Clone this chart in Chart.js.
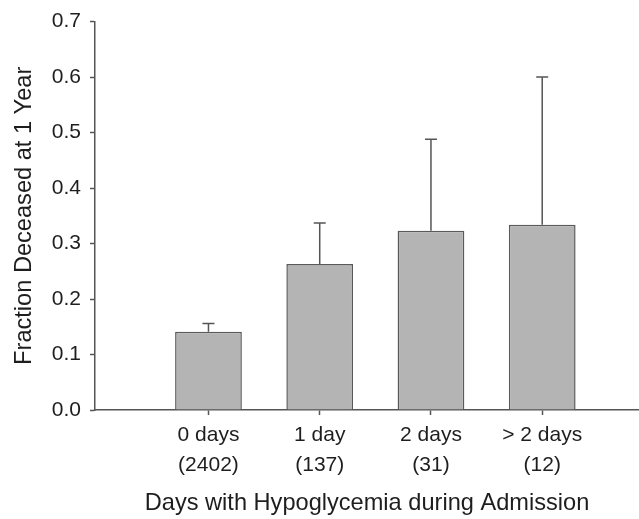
<!DOCTYPE html>
<html>
<head>
<meta charset="utf-8">
<style>
  html, body { margin: 0; padding: 0; background: #fff; }
  #wrap { width: 639px; height: 519px; }
</style>
<script src="https://cdn.jsdelivr.net/npm/chart.js"></script>
</head>
<body>
<div id="wrap"><canvas id="chart"></canvas></div>
<script>
  // Data
  const categories = ['0 days', '1 day', '2 days', '> 2 days'];
  const counts = ['(2402)', '(137)', '(31)', '(12)'];
  const positions = [1, 2, 3, 4];
  const fraction = [0.141, 0.263, 0.323, 0.334];
  const upperError = [0.156, 0.337, 0.488, 0.600];
  const yTicks = [0, 0.1, 0.2, 0.3, 0.4, 0.5, 0.6, 0.7];

  const axisColor = '#555555';
  const textColor = '#1e1e1e';
  const fontFamily = 'Arial, "Liberation Sans", Helvetica, sans-serif';

  // Upward-only error bars with a small cap
  const errorBars = {
    id: 'errorBars',
    afterDatasetsDraw(chart) {
      const ctx = chart.ctx;
      const xs = chart.scales.x, ys = chart.scales.y;
      ctx.save();
      ctx.strokeStyle = axisColor;
      ctx.lineWidth = 1.5;
      positions.forEach((p, i) => {
        const x = xs.getPixelForValue(p);
        const y0 = ys.getPixelForValue(fraction[i]);
        const y1 = ys.getPixelForValue(upperError[i]);
        ctx.beginPath();
        ctx.moveTo(x, y0);
        ctx.lineTo(x, y1);
        ctx.moveTo(x - 6, y1);
        ctx.lineTo(x + 6, y1);
        ctx.stroke();
      });
      ctx.restore();
    }
  };

  const ctx = document.getElementById('chart').getContext('2d');
  new Chart(ctx, {
    type: 'bar',
    data: {
      datasets: [{
        data: positions.map((p, i) => ({ x: p, y: fraction[i] })),
        backgroundColor: '#b4b4b4',
        borderColor: '#5a5a5a',
        borderWidth: 1.5,
        barPercentage: 0.6,
        categoryPercentage: 1.0
      }]
    },
    options: {
      responsive: true,
      maintainAspectRatio: false,
      animation: false,
      layout: { padding: { top: 10, right: 0, left: 0, bottom: 0 } },
      plugins: {
        legend: { display: false },
        tooltip: { enabled: false }
      },
      scales: {
        x: {
          type: 'linear',
          min: -0.02,
          max: 4.87,
          offset: false,
          afterBuildTicks: s => { s.ticks = positions.map(v => ({ value: v })); },
          afterFit: s => { s.height = 109; },
          grid: {
            offset: false,
            drawOnChartArea: false,
            drawTicks: true,
            tickLength: 5,
            tickWidth: 1.5,
            color: axisColor
          },
          border: { display: true, color: axisColor, width: 1.5 },
          ticks: {
            padding: 6,
            color: textColor,
            font: { family: fontFamily, size: 21, lineHeight: 1.4 },
            maxRotation: 0,
            callback: (v, i) => [categories[i], counts[i]]
          },
          title: {
            display: true,
            text: 'Days with Hypoglycemia during Admission',
            color: textColor,
            font: { family: fontFamily, size: 23.6 },
            padding: { top: 0, bottom: 1 }
          }
        },
        y: {
          min: 0,
          max: 0.7,
          afterBuildTicks: s => { s.ticks = yTicks.map(v => ({ value: v })); },
          afterFit: s => { s.width = 95; },
          grid: {
            drawOnChartArea: false,
            drawTicks: true,
            tickLength: 5,
            tickWidth: 1.5,
            color: axisColor
          },
          border: { display: true, color: axisColor, width: 1.5 },
          ticks: {
            padding: 9,
            color: textColor,
            font: { family: fontFamily, size: 21 },
            callback: v => v.toFixed(1)
          },
          title: {
            display: true,
            text: 'Fraction Deceased at 1 Year',
            color: textColor,
            font: { family: fontFamily, size: 23.6 },
            padding: { top: 10, bottom: 0 }
          }
        }
      }
    },
    plugins: [errorBars]
  });
</script>
</body>
</html>
